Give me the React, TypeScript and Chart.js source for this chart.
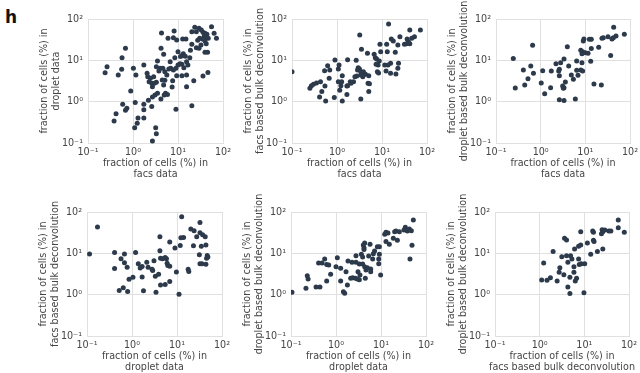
import React, { useEffect, useRef } from 'react';
import { Chart, registerables } from 'chart.js';

Chart.register(...registerables);

// ---- tick values / labels ----
const TICK_VALUES = [0.1, 1, 10, 100];
const TICK_LABELS = ['10⁻¹', '10⁰', '10¹', '10²'];

// ---- panel 1: facs (x) vs droplet (y) ----
const P1_X = [55.6,23.6,29.3,33,20.3,25.6,35.9,39.7,43.9,63.5,38.4,42.4,30.3,34.7,27.4,47,71.5,39.7,8.2,4.3,7.9,6.0,9.35,12.7,15,20.3,25.6,32.4,42.4,18.9,39.7,45.4,4.2,4.8,10,13.1,12.2,11.4,14.5,8.5,0.68,0.57,0.265,0.24,0.47,0.56,1.02,1.16,1.74,3.5,3.3,4.0,6.7,5.1,6.25,6.9,7.9,9.0,10,11.1,12.2,15.5,18.3,16.6,13.5,15.5,12.2,9.35,5.65,4.47,5.1,7.6,7.4,4.8,2.06,2.13,2.44,2.88,2.28,2.61,2.98,2.7,3.3,3.5,5.28,5.84,4.94,4.17,3.08,2.7,2.2,1.74,1.12,0.89,0.59,0.68,0.73,0.42,0.38,1.29,1.74,1.74,1.24,1.09,3.19,3.3,2.7,2.61,9.0,20.3,22.4,35.9,46.2,15.5,3.77,4.6,29.3];
const P1_Y = [65.3,62.9,59.4,54.2,49.4,49.4,47.6,45,42.6,45,39.5,37.4,34.1,32.8,30.5,34.1,34.1,29.4,51.2,45.8,35.3,34.1,31,32.8,32.8,24.4,20.2,23.5,25.3,17.5,15.6,15.6,19.5,14,16.2,14.5,13,12.3,12.5,11.6,19.5,11.6,7.0,5.0,4.4,6.05,6.4,4.4,7.7,9.6,7.0,6.4,9.3,5.3,6.2,6.4,5.8,6.4,7.7,8.3,8.0,9.3,11.6,7.7,6.65,4.4,4.26,4.26,4.4,3.35,3.28,3.22,2.26,2.53,4.85,4.0,3.67,4.0,3.05,2.78,2.78,2.3,2.94,1.59,1.59,1.5,1.45,1.16,1.45,1.3,1.08,0.86,0.96,1.81,0.86,0.62,0.69,0.51,0.34,0.40,0.64,0.40,0.30,0.235,0.235,0.168,0.112,0.76,0.66,0.80,3.22,4.18,5.1,2.3,5.5,6.4,19.5];

// ---- panel 2: facs (x) vs facs based bulk deconvolution (y) ----
const P2_X = [14,41.5,71.3,3.2,25,52.6,45.9,36.2,38.7,16.1,17.8,12.7,9.0,22.5,31.6,35,41.5,3.5,19.7,13.1,9.35,4.75,6.7,7.1,7.6,8.7,8.2,7.4,11.5,15.5,23.3,13.6,22.5,12.3,15.5,20.4,7.9,8.4,0.9,1.72,2.67,1.11,1.07,0.62,0.53,0.69,2.96,2.86,3.16,3.38,3.87,4.29,3.75,2.76,2.5,2.33,1.97,2.04,1.72,1.31,1.27,1.07,1.22,1.66,1.15,1.66,0.67,0.54,0.43,0.35,0.30,0.27,0.25,0.46,0.41,0.56,0.87,1.31,3.38,4.9,5.26,5.08,0.1,3.38,5.08];
const P2_Y = [75.7,54.2,54.2,41,37.4,37.4,34.1,32.8,28.3,32.8,29.4,24.4,24.4,23.5,24.4,25.3,25.3,18.5,15.6,16.2,16.2,14.8,14,11.6,10.8,9.6,7.7,8.0,7.7,8.5,8.5,7.7,6.4,5.5,4.85,4.67,5.3,4.94,10.2,10.4,10,7.7,6.2,7.4,5.6,5.8,6.65,5.8,6.2,5.3,5.3,4.58,4.0,4.18,4.0,3.05,3.05,2.78,2.44,4.26,3.05,3.05,2.44,2.39,1.88,1.5,3.67,2.39,3.05,2.83,2.63,2.44,2.1,1.75,1.3,1.04,1.27,1.04,1.16,2.78,2.72,1.75,5.3,4.4,4.26];

// ---- panel 3: facs (x) vs droplet based bulk deconvolution (y) ----
const P3_X = [43.1,74.7,48.6,42.4,39.5,32.2,25.3,23.6,13.6,12.3,9.3,9.0,3.95,0.66,19.9,13.6,7.9,8.7,10,11.5,8.4,36.9,0.244,3.33,2.2,2.8,6.4,8.4,13.2,4.24,2.62,0.6,0.41,0.69,0.52,1.11,1.73,2.53,2.62,4.86,6.85,5.4,7.9,8.7,6.4,3.57,3.11,3.33,3.22,1.67,1.03,1.23,0.44,0.27,15.6,22.8,2.62,3.33,5.97];
const P3_Y = [62.9,42.6,38.8,35.3,32.8,37.4,35.3,34.1,32.2,32.2,32.8,29.4,21.4,23.1,20.6,19.2,17.5,16.2,15.3,14.8,14.5,13,11,10.8,8.3,8.8,9.6,8.8,9.5,7.3,6.05,7.3,5.8,4.85,3.6,5.6,5.5,5.5,4.26,4.4,4.34,3.47,5.8,5.5,5.73,2.99,2.39,2.18,2.1,2.18,2.83,1.56,2.53,2.14,2.68,2.53,1.12,1.06,1.16];

// ---- panel 4: droplet (x) vs facs based bulk deconvolution (y) ----
const P4_X = [12.7,32.4,0.171,20.3,24,32.4,37.1,42.4,27.4,4.17,14,12.2,6.9,9.0,11.8,23.2,34.7,43.9,4.17,0.114,0.41,0.68,1.2,31.4,47,48.5,45.4,4.3,5.46,5.84,4.77,0.57,0.68,0.78,0.41,1.38,1.52,1.68,2.13,3.08,2.28,2.79,2.88,6.04,6.25,6.9,17.7,18.3,9.7,32.4,35.9,43.9,3.9,3.3,1.68,1.05,0.86,4.3,5.46,6.9,0.64,0.52,0.80,1.8,3.41,11.1];
const P4_Y = [77,56.1,43.2,38.6,35.2,31.5,28.1,25.2,25.2,25.2,24.3,23.8,18.7,13.4,15.5,15.2,14.9,15.8,11.5,9.7,10.5,9.7,10.5,9.2,8.9,8.1,7.6,7.6,7.9,7.35,7.35,7.35,5.9,4.6,4.28,5.56,4.44,4.79,6.1,6.6,4.6,4.12,3.83,5.77,5.06,4.88,4.12,3.62,3.55,5.56,5.56,5.46,3.12,2.79,2.69,2.64,2.36,1.72,1.75,2.07,1.48,1.27,1.2,1.25,1.14,1.02];

// ---- panel 5: droplet (x) vs droplet based bulk deconvolution (y) ----
const P5_X = [52.3,34.7,42.6,47.2,38.5,32.4,25.6,21.5,20.1,12.9,14.3,12.1,18.8,23.1,12.9,15.3,48.9,8.3,9.2,5.7,4.34,4.05,4.19,4.19,7.2,6.76,9.2,3.66,3.91,2.78,5.32,6.53,8.9,8.9,44.1,1.07,0.56,0.41,0.49,0.62,0.69,1.0,1.27,1.85,2.27,2.78,3.3,3.91,4.34,4.97,4.64,5.9,5.9,1.67,3.08,3.41,0.76,0.23,0.24,0.62,1.27,2.35,2.69,2.98,3.3,2.12,4.48,9.8,1.79,0.215,0.36,0.44,1.46,1.56,0.105];
const P5_Y = [64,42.6,38.8,35.3,34.7,36.7,33.4,34.7,33.4,32.2,31,28.8,23.1,20.6,19.2,16.5,15.6,14.5,14.5,16.5,17.8,15.9,13.7,12.3,11.4,9.8,9.5,9.5,8.15,8.8,8.6,7.3,7.3,5.6,7.3,7.85,7.3,5.8,5.8,5.4,5.2,4.76,4.34,6.5,6.05,6.05,5.5,5.5,4.76,4.5,3.95,4.18,3.6,3.6,3.6,2.99,3.1,2.88,2.39,2.14,2.14,2.58,2.48,2.39,2.3,2.48,2.48,2.99,1.71,1.42,1.53,1.53,1.18,1.08,1.14];

// ---- panel 6: facs based bulk deconvolution (x) vs droplet based bulk deconvolution (y) ----
const P6_X = [57.5,57.5,78.5,8.3,15.4,16,25,28.8,25.9,24.2,35.4,39.3,3.6,4.0,11.7,16,16.5,8.3,7.45,6.05,13.9,19.6,25.9,2.0,3.13,4.0,4.92,5.27,4.28,7.45,7.7,8.55,10.2,1.23,2.83,5.85,2.73,3.48,5.85,1.74,1.11,1.46,2.46,4.75,6.7,6.27,4.28,4.75,9.8];
const P6_Y = [64,41.8,32.2,33.4,34.7,32.2,37.4,36.7,33.4,29.9,34.7,34.7,23.1,21,17.8,20.6,19.2,15.9,14.8,12.7,9.5,11,12.7,11,8.3,8.8,8.8,7.3,6.05,7.3,5.4,5.6,5.6,5.8,4.5,4.76,3.47,3.05,3.47,2.58,2.26,2.22,2.14,2.63,2.48,2.14,1.53,1.06,1.12];

// ---- axis titles ----
const T_FACS = ['fraction of cells (%) in', 'facs data'];
const T_DROPLET = ['fraction of cells (%) in', 'droplet data'];
const T_FACS_BULK = ['fraction of cells (%) in', 'facs based bulk deconvolution'];
const T_DROPLET_BULK = ['fraction of cells (%) in', 'droplet based bulk deconvolution'];

// ---- style ----
const POINT_COLOR = '#2c3a4b';
const GRID_COLOR = '#e0e0e0';
const TEXT_COLOR = '#454545';
const FONT_FAMILY = '"DejaVu Sans", Verdana, sans-serif';
const FONT_SIZE = 9.6;

const Y_AXIS_W = 49;
const X_AXIS_H = 37;
const PAD_TOP = 20;
const PAD_RIGHT = 14;
const PAD_BOTTOM = 4;

type PanelDef = {
  xs: number[]; ys: number[]; xTitle: string[]; yTitle: string[];
  left: number; top: number; w: number; h: number;
};

const PANELS: PanelDef[] = [
  { xs: P1_X, ys: P1_Y, xTitle: T_FACS, yTitle: T_DROPLET, left: 88, top: 19, w: 135, h: 124 },
  { xs: P2_X, ys: P2_Y, xTitle: T_FACS, yTitle: T_FACS_BULK, left: 292, top: 19, w: 135, h: 124 },
  { xs: P3_X, ys: P3_Y, xTitle: T_FACS, yTitle: T_DROPLET_BULK, left: 496, top: 19, w: 134, h: 124 },
  { xs: P4_X, ys: P4_Y, xTitle: T_DROPLET, yTitle: T_FACS_BULK, left: 87, top: 212, w: 135, h: 124 },
  { xs: P5_X, ys: P5_Y, xTitle: T_DROPLET, yTitle: T_DROPLET_BULK, left: 291, top: 212, w: 135, h: 124 },
  { xs: P6_X, ys: P6_Y, xTitle: T_FACS_BULK, yTitle: T_DROPLET_BULK, left: 495, top: 212, w: 134, h: 124 },
];

function tickLabel(v: number | string): string {
  const i = TICK_VALUES.findIndex((t) => Math.abs(Math.log10(t) - Math.log10(Number(v))) < 1e-6);
  return i >= 0 ? TICK_LABELS[i] : '';
}

function makeTitlePlugin(xTitle: string[], yTitle: string[]) {
  return {
    id: 'axisTitles',
    afterDraw(chart: any) {
      const { ctx, chartArea } = chart;
      ctx.save();
      ctx.fillStyle = TEXT_COLOR;
      ctx.font = `${FONT_SIZE}px ${FONT_FAMILY}`;
      ctx.textAlign = 'center';
      ctx.textBaseline = 'middle';
      const cx = (chartArea.left + chartArea.right) / 2;
      xTitle.forEach((line, i) => {
        ctx.fillText(line, cx, chartArea.bottom + 20 + i * 11.5);
      });
      const cy = (chartArea.top + chartArea.bottom) / 2;
      yTitle.forEach((line, i) => {
        ctx.save();
        ctx.translate(chartArea.left - 44 + i * 12, cy);
        ctx.rotate(-Math.PI / 2);
        ctx.fillText(line, 0, 0);
        ctx.restore();
      });
      ctx.restore();
    },
  };
}

function axisOptions(isX: boolean) {
  return {
    type: 'logarithmic' as const,
    min: 0.1,
    max: 100,
    afterBuildTicks: (scale: any) => {
      scale.ticks = TICK_VALUES.map((v) => ({ value: v }));
    },
    afterFit: (scale: any) => {
      if (isX) scale.height = X_AXIS_H;
      else scale.width = Y_AXIS_W;
    },
    ticks: {
      callback: (v: any) => tickLabel(v),
      autoSkip: false,
      maxRotation: 0,
      minRotation: 0,
      padding: isX ? 4 : 5,
      color: TEXT_COLOR,
      font: { family: FONT_FAMILY, size: FONT_SIZE },
    },
    grid: { color: GRID_COLOR, lineWidth: 1, drawTicks: false },
    border: { color: GRID_COLOR, width: 1 },
    title: { display: false },
  };
}

function Panel({ p }: { p: PanelDef }) {
  const ref = useRef<HTMLCanvasElement | null>(null);
  const width = Y_AXIS_W + p.w + PAD_RIGHT;
  const height = PAD_TOP + p.h + X_AXIS_H + PAD_BOTTOM;

  useEffect(() => {
    if (!ref.current) return;
    const points = p.xs.map((x, i) => ({ x, y: p.ys[i] }));
    const chart = new Chart(ref.current, {
      type: 'scatter',
      data: {
        datasets: [
          {
            data: points,
            backgroundColor: POINT_COLOR,
            borderColor: POINT_COLOR,
            borderWidth: 0,
            pointRadius: 2.5,
            pointHoverRadius: 2.5,
            clip: { left: 0, right: 6, top: 6, bottom: 6 } as any,
          },
        ],
      },
      options: {
        animation: false,
        responsive: false,
        maintainAspectRatio: false,
        events: [],
        layout: { padding: { left: 0, right: PAD_RIGHT, top: PAD_TOP, bottom: PAD_BOTTOM } },
        plugins: { legend: { display: false }, tooltip: { enabled: false } },
        scales: { x: axisOptions(true) as any, y: axisOptions(false) as any },
      },
      plugins: [makeTitlePlugin(p.xTitle, p.yTitle)],
    });
    return () => chart.destroy();
  }, [p]);

  return (
    <canvas
      ref={ref}
      width={width}
      height={height}
      style={{
        position: 'absolute',
        left: p.left - Y_AXIS_W,
        top: p.top - PAD_TOP,
        width,
        height,
      }}
    />
  );
}

export default function App() {
  return (
    <div
      style={{
        position: 'absolute',
        left: 0,
        top: 0,
        width: 640,
        height: 373,
        background: '#ffffff',
        overflow: 'hidden',
      }}
    >
      <div
        style={{
          position: 'absolute',
          left: 5,
          top: 7,
          fontFamily: FONT_FAMILY,
          fontWeight: 'bold',
          fontSize: 17,
          color: '#111',
          zIndex: 2,
        }}
      >
        h
      </div>
      {PANELS.map((p, i) => (
        <Panel key={i} p={p} />
      ))}
    </div>
  );
}
